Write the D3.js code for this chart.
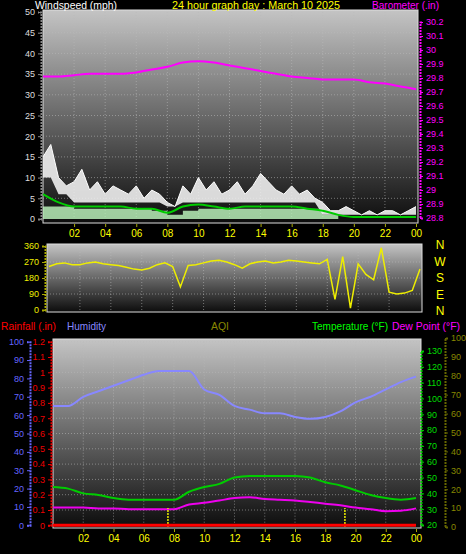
<!DOCTYPE html>
<html>
<head>
<meta charset="UTF-8">
<script src="https://d3js.org/d3.v7.min.js"></script>
<style>
  body { margin: 0; background: #000; }
  svg text { font-family: "Liberation Sans", Arial, sans-serif; }
</style>
</head>
<body>
<svg id="chart" width="466" height="554"></svg>
<script>
// hourly / half-hourly readings, March 10 2025
const hours = d3.range(0, 25);
const halfHours = d3.range(0, 24.5, 0.5);
const hourLabels = ['02','04','06','08','10','12','14','16','18','20','22','00'];

const windGust = [15,18,10,8,9,12,7,9,6,8,7,6,8,5,7,6,4,3,8,6,10,7,9,6,7,9,6,8,11,9,7,6,8,6,7,5,4,2,2,3,2,1,2,1,2,2,1,2,3];
const windGustLow = [10,6,4,4,4,4,4,4,3,4,4,4,4,4,4,4,4,4,1,1,1,1,1,1,1];
const windAvg = [6,4,3,3,3,3,2.5,2.5,1.5,3,3.5,3,2.5,3,3,3,3,2.5,2,1,0.5,0.5,0.5,0.5,0.5];
const windSpeed = [3,3,2.5,2.5,2.5,2.5,2.5,2,1,2,2.5,2.5,2.5,2.5,2.5,2.5,2.5,2.5,1,0,0,0,0,0,0];
const barometer = [29.81,29.81,29.82,29.83,29.83,29.83,29.84,29.86,29.88,29.91,29.92,29.91,29.89,29.87,29.85,29.83,29.81,29.80,29.79,29.79,29.79,29.77,29.76,29.74,29.72];
const windDir = [245,260,265,255,255,265,270,260,255,250,240,230,225,235,255,265,245,130,250,255,265,275,280,270,255,235,260,270,275,265,270,280,275,270,265,260,285,60,300,10,260,200,170,350,100,90,95,110,230];
const humidity = [65,65,70,73,76,79,82,84,84,84,74,71,65,63,61,61,59,58,59,62,67,70,74,78,81];
const temperature = [44,43,40,39,37,36,36,36,36,41,44,46,50,51,51,51,51,50,47,45,42,39,37,36,37];
const dewPoint = [31,31,31,30.5,30.5,30,30,30,30,33,34,35.5,37,37.5,36.5,36,35.5,34.5,33.5,32.5,31,30,28.7,29,30.5];
const rainfall = hours.map(() => 0);
const aqiHours = [7.6, 19.3];
const aqiValues = [10, 10];
const dirLetters = ['N','W','S','E','N'];

const svg = d3.select('#chart');
const defs = svg.append('defs');
const grad = defs.append('linearGradient').attr('id', 'bg').attr('x1', 0).attr('x2', 0).attr('y1', 0).attr('y2', 1);
grad.append('stop').attr('offset', 0).attr('stop-color', '#c4c4c4');
grad.append('stop').attr('offset', 1).attr('stop-color', '#0c0c0c');

function panel(x0, x1, y0, y1) {
  svg.append('rect').attr('x', x0).attr('y', y0).attr('width', x1 - x0).attr('height', y1 - y0)
    .attr('fill', 'url(#bg)');
  svg.append('rect').attr('x', x0).attr('y', y0).attr('width', x1 - x0).attr('height', y1 - y0)
    .attr('fill', 'none').attr('stroke', '#ddd').attr('stroke-width', 1);
}
function grid(x, y, yTicks, x0, x1) {
  const g = svg.append('g').attr('stroke', '#bbb').attr('stroke-opacity', 0.55).attr('stroke-dasharray', '1,2');
  d3.range(2, 24, 2).forEach(h => g.append('line').attr('x1', x(h)).attr('x2', x(h)).attr('y1', y.range()[1]).attr('y2', y.range()[0]));
  yTicks.forEach(v => g.append('line').attr('x1', x0).attr('x2', x1).attr('y1', y(v)).attr('y2', y(v)));
}
function hourAxis(x, yPos) {
  svg.append('g').attr('transform', `translate(0,${yPos})`)
    .call(d3.axisBottom(x).tickValues(d3.range(2, 25, 2)).tickFormat((d, i) => hourLabels[i]).tickSize(3))
    .call(g => g.select('.domain').remove())
    .call(g => g.selectAll('line').attr('stroke', '#aa0'))
    .call(g => g.selectAll('text').attr('fill', '#ff0').attr('font-size', 10));
}
function sideAxis(axis, xPos, color, lineColor) {
  svg.append('g').attr('transform', `translate(${xPos},0)`).call(axis)
    .call(g => g.select('.domain').attr('stroke', lineColor || color).attr('stroke-width', 2).attr('stroke-dasharray', '2,1'))
    .call(g => g.selectAll('line').attr('stroke', lineColor || color))
    .call(g => g.selectAll('text').attr('fill', color).attr('font-size', 9));
}
function label(x, y, color, text, len) {
  svg.append('text').attr('x', x).attr('y', y).attr('fill', color).attr('font-size', 11.5)
    .attr('textLength', len).attr('lengthAdjust', 'spacingAndGlyphs').text(text);
}

// ---- panel 1: wind speed + barometer
const x1 = d3.scaleLinear().domain([0, 24]).range([43, 416]);
const yWind = d3.scaleLinear().domain([0, 50]).range([219, 12]);
const yBaro = d3.scaleLinear().domain([28.8, 30.2]).range([218, 22]);
panel(43, 418, 10, 223);
grid(x1, yWind, d3.range(5, 50, 5), 43, 418);

svg.append('path').datum(hours)
  .attr('d', d3.area().x(h => x1(h)).y0(yWind(0)).y1(h => yWind(windSpeed[h])).curve(d3.curveStepAfter))
  .attr('fill', '#b8f0b8').attr('fill-opacity', 0.85);
svg.append('path').datum(halfHours)
  .attr('d', d3.area().x(h => x1(h)).y0(h => yWind(windGustLow[Math.floor(h)])).y1((h, i) => yWind(windGust[i])))
  .attr('fill', '#eee').attr('fill-opacity', 0.9);
svg.append('path').datum(halfHours)
  .attr('d', d3.line().x(h => x1(h)).y((h, i) => yWind(windGust[i])))
  .attr('fill', 'none').attr('stroke', '#fff').attr('stroke-width', 1);
svg.append('path').datum(hours)
  .attr('d', d3.line().x(h => x1(h)).y(h => yWind(windAvg[h])).curve(d3.curveMonotoneX))
  .attr('fill', 'none').attr('stroke', '#0c0').attr('stroke-width', 2);
svg.append('path').datum(hours)
  .attr('d', d3.line().x(h => x1(h)).y(h => yBaro(barometer[h])).curve(d3.curveMonotoneX))
  .attr('fill', 'none').attr('stroke', '#f0f').attr('stroke-width', 2);

sideAxis(d3.axisLeft(yWind).tickValues(d3.range(0, 51, 5)).tickSize(3), 41, '#ddd', '#888');
sideAxis(d3.axisRight(yBaro).tickValues(d3.range(28.8, 30.25, 0.1)).tickFormat(d => +d.toFixed(1)).tickSize(3), 420, '#f0f');
hourAxis(x1, 224);

label(35, 9, '#fff', 'Windspeed (mph)', 82);
label(172, 9, '#ff0', '24 hour graph day : March 10 2025', 168);
label(372, 9, '#f0f', 'Barometer (.in)', 67);

// ---- panel 2: wind direction
const x2 = d3.scaleLinear().domain([0, 24]).range([49, 420]);
const yDir = d3.scaleLinear().domain([0, 360]).range([310, 246]);
panel(47, 422, 244, 312);
grid(x2, yDir, [90, 180, 270], 47, 422);
svg.append('path').datum(halfHours)
  .attr('d', d3.line().x(h => x2(h)).y((h, i) => yDir(windDir[i])))
  .attr('fill', 'none').attr('stroke', '#ee0').attr('stroke-width', 1.5);
sideAxis(d3.axisLeft(yDir).tickValues([0, 90, 180, 270, 360]).tickSize(3), 45, '#ee0', '#aa0');
dirLetters.forEach((l, i) => svg.append('text').attr('x', 440).attr('y', 249 + i * 16.5).attr('fill', '#ff0')
  .attr('font-size', 12).attr('text-anchor', 'middle').text(l));

// ---- panel 3: humidity / temperature / dew point / rain
label(1, 330, '#f00', 'Rainfall (.in)', 55);
label(67, 330, '#88f', 'Humidity', 39);
label(211, 330, '#880', 'AQI', 18);
label(312, 330, '#0f0', 'Temperature (°F)', 76);
label(392, 330, '#f0f', 'Dew Point (°F)', 68);

const x3 = d3.scaleLinear().domain([0, 24]).range([53, 416]);
const yHum = d3.scaleLinear().domain([0, 100]).range([525.3, 341.7]);
const yRain = d3.scaleLinear().domain([0, 1.2]).range([525.3, 341.7]);
const yTemp = d3.scaleLinear().domain([20, 130]).range([525, 351]);
const yAqi = d3.scaleLinear().domain([0, 100]).range([527, 338]);
panel(53, 421, 339, 528);
grid(x3, yRain, d3.range(0.1, 1.25, 0.1), 53, 421);

svg.append('path').datum(hours)
  .attr('d', d3.line().x(h => x3(h)).y(h => yHum(humidity[h])).curve(d3.curveMonotoneX))
  .attr('fill', 'none').attr('stroke', '#88f').attr('stroke-width', 2);
svg.append('path').datum(hours)
  .attr('d', d3.line().x(h => x3(h)).y(h => yTemp(temperature[h])).curve(d3.curveMonotoneX))
  .attr('fill', 'none').attr('stroke', '#0c0').attr('stroke-width', 2);
svg.append('path').datum(hours)
  .attr('d', d3.line().x(h => x3(h)).y(h => yTemp(dewPoint[h])).curve(d3.curveMonotoneX))
  .attr('fill', 'none').attr('stroke', '#e0e').attr('stroke-width', 2);
aqiHours.forEach((h, i) => svg.append('line').attr('x1', x3(h)).attr('x2', x3(h)).attr('y1', yAqi(0)).attr('y2', yAqi(aqiValues[i]))
  .attr('stroke', '#ee0').attr('stroke-width', 1.5).attr('stroke-dasharray', '2,1'));
svg.append('path').datum(hours)
  .attr('d', d3.line().x(h => x3(h)).y(h => yRain(rainfall[h])))
  .attr('fill', 'none').attr('stroke', '#f00').attr('stroke-width', 3);

sideAxis(d3.axisLeft(yHum).tickValues(d3.range(0, 101, 10)).tickSize(3), 30, '#66f', '#66f');
sideAxis(d3.axisLeft(yRain).tickValues(d3.range(0, 1.25, 0.1)).tickFormat(d => +d.toFixed(1)).tickSize(3), 51, '#e00', '#e00');
sideAxis(d3.axisRight(yTemp).tickValues(d3.range(20, 131, 10)).tickSize(3), 421, '#0d0', '#0c0');
sideAxis(d3.axisRight(yAqi).tickValues(d3.range(0, 101, 10)).tickSize(3), 445, '#880', '#660');
hourAxis(x3, 529);
</script>
</body>
</html>
